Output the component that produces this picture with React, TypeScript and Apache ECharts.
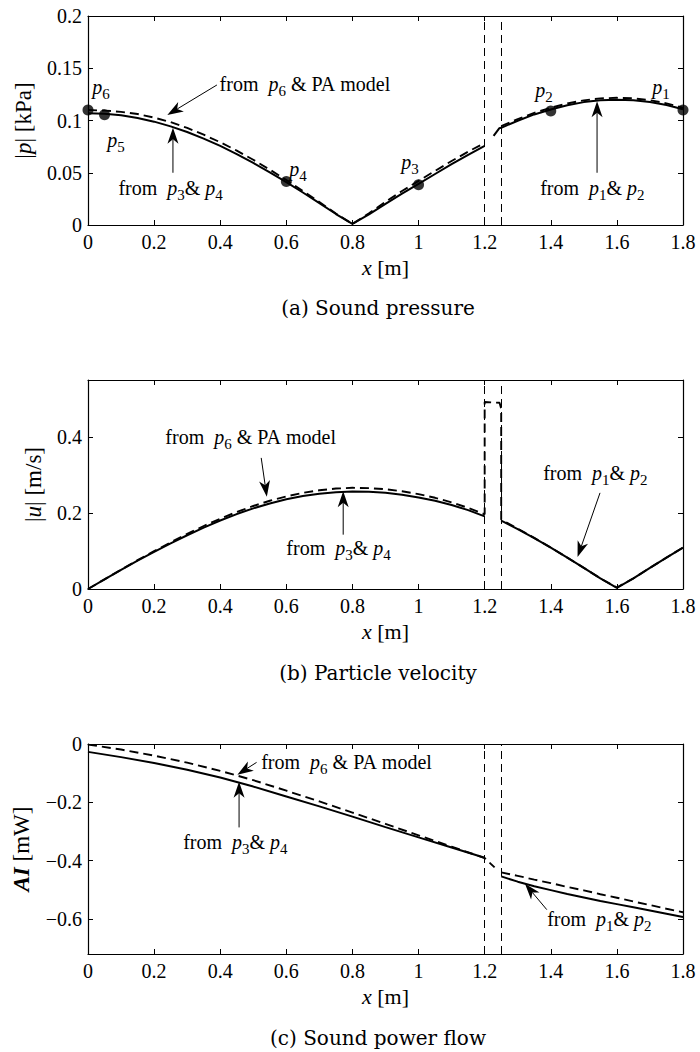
import React, { useEffect, useRef } from 'react';
import * as echarts from 'echarts';

// ---------------- data ----------------
const xTicks = [0, 0.2, 0.4, 0.6, 0.8, 1, 1.2, 1.4, 1.6, 1.8];
const aYTicks = [0, 0.05, 0.1, 0.15, 0.2];
const bYTicks = [0, 0.2, 0.4];
const cYTicks = [-0.6, -0.4, -0.2, 0];
const gapEdges = [1.2, 1.25];

const leftX = [0, 0.05, 0.1, 0.15, 0.2, 0.25, 0.3, 0.35, 0.4, 0.45, 0.5, 0.55, 0.6, 0.65, 0.7, 0.75, 0.8, 0.85, 0.9, 0.95, 1, 1.05, 1.1, 1.15, 1.2];
const rightX = [1.25, 1.3, 1.35, 1.4, 1.45, 1.5, 1.55, 1.6, 1.65, 1.7, 1.75, 1.8];

// (a) sound pressure |p| [kPa]
const aSolidLeft = [0.107, 0.1065, 0.105, 0.1024, 0.0989, 0.0944, 0.089, 0.0827, 0.0757, 0.0679, 0.0594, 0.0504, 0.041, 0.0311, 0.0209, 0.0105, 0.001, 0.0102, 0.0203, 0.03, 0.0393, 0.0488, 0.0582, 0.0672, 0.0758];
const aDashLeft = [0.11, 0.1095, 0.1083, 0.1062, 0.1028, 0.0984, 0.0929, 0.0864, 0.0792, 0.0712, 0.0624, 0.053, 0.043, 0.0326, 0.022, 0.011, 0.001, 0.0112, 0.0222, 0.0325, 0.0422, 0.0518, 0.0612, 0.0702, 0.0785];
const aSolidRightX = [1.227, 1.244, 1.25, 1.3, 1.35, 1.4, 1.45, 1.5, 1.55, 1.6, 1.65, 1.7, 1.75, 1.8];
const aSolidRight = [0.0853, 0.0925, 0.093, 0.0998, 0.1058, 0.1105, 0.1146, 0.1176, 0.1194, 0.1199, 0.1194, 0.1177, 0.1148, 0.1108];
const aDashRight = [0.0945, 0.1013, 0.1073, 0.1122, 0.1163, 0.1193, 0.1212, 0.1217, 0.1212, 0.1194, 0.1164, 0.1122];
const micX = [0, 0.05, 0.6, 1.0, 1.4, 1.8];
const micP = [0.11, 0.1054, 0.0417, 0.0385, 0.109, 0.11];
const micNames = ['6', '5', '4', '3', '2', '1'];

// (b) particle velocity |u| [m/s]
const bSolidLeft = [0, 0.0252, 0.0501, 0.0745, 0.0975, 0.12, 0.1415, 0.1616, 0.1802, 0.1972, 0.2122, 0.2252, 0.236, 0.2445, 0.2508, 0.2548, 0.2563, 0.2558, 0.253, 0.248, 0.241, 0.232, 0.221, 0.2075, 0.191];
const bDashLeft = [0, 0.0255, 0.0508, 0.0758, 0.0995, 0.1228, 0.145, 0.1658, 0.185, 0.2027, 0.2185, 0.2322, 0.2437, 0.253, 0.2598, 0.2643, 0.2663, 0.2655, 0.2625, 0.2572, 0.2497, 0.24, 0.228, 0.2135, 0.1965];
const bSpikeX = [1.2, 1.245, 1.25];
const bSpike = [0.492, 0.49, 0.475];
const bSolidRight = [0.18, 0.1578, 0.1339, 0.1087, 0.0824, 0.0554, 0.0278, 0.003, 0.0278, 0.0554, 0.0824, 0.1087];
const bDashRight = [0.183, 0.1588, 0.1345, 0.109, 0.0826, 0.0556, 0.028, 0.004, 0.028, 0.0556, 0.0826, 0.109];

// (c) sound power flow AI [mW]
const cLeftX = [0, 0.1, 0.2, 0.3, 0.4, 0.5, 0.6, 0.7, 0.8, 0.9, 1, 1.1, 1.2];
const cSolidLeft = [-0.027, -0.045, -0.065, -0.088, -0.115, -0.146, -0.18, -0.214, -0.249, -0.285, -0.32, -0.355, -0.39];
const cDashLeftX = [0, 0.1, 0.2, 0.3, 0.4, 0.5, 0.6, 0.7, 0.8, 0.9, 1, 1.1, 1.2, 1.23];
const cDashLeft = [-0.002, -0.019, -0.04, -0.064, -0.092, -0.124, -0.16, -0.197, -0.235, -0.274, -0.313, -0.352, -0.391, -0.423];
const cSolidRight = [-0.454, -0.472, -0.488, -0.501, -0.514, -0.526, -0.538, -0.549, -0.56, -0.571, -0.582, -0.593];
const cDashRight = [-0.44, -0.452, -0.465, -0.477, -0.49, -0.502, -0.515, -0.527, -0.54, -0.552, -0.565, -0.577];

// ---------------- annotation placement (data coordinates) ----------------
const SP = '\u00A0';
const noteP6 = `{n|from${SP}${SP}}{i|p}{s|6}{n|${SP}&${SP}PA${SP}model}`;
const noteP34 = `{n|from${SP}${SP}}{i|p}{s|3}{n|&${SP}}{i|p}{s|4}`;
const noteP12 = `{n|from${SP}${SP}}{i|p}{s|1}{n|&${SP}}{i|p}{s|2}`;
const micLabelPos = [[0.013, 0.1317], [0.058, 0.0815], [0.609, 0.0538], [0.948, 0.06], [1.353, 0.1293], [1.707, 0.1324]];
const notes = [
  { g: 0, x: 0.398, y: 0.135, t: noteP6 },
  { g: 0, x: 0.092, y: 0.0357, t: noteP34 },
  { g: 0, x: 1.368, y: 0.0357, t: noteP12 },
  { g: 1, x: 0.234, y: 0.4, t: noteP6 },
  { g: 1, x: 0.6, y: 0.108, t: noteP34 },
  { g: 1, x: 1.377, y: 0.306, t: noteP12 },
  { g: 2, x: 0.524, y: -0.061, t: noteP6 },
  { g: 2, x: 0.288, y: -0.337, t: noteP34 },
  { g: 2, x: 1.389, y: -0.6, t: noteP12 },
];
const arrows = [
  { g: 0, from: [0.39, 0.134], to: [0.24, 0.1053] },
  { g: 0, from: [0.257, 0.05], to: [0.257, 0.093] },
  { g: 0, from: [1.54, 0.05], to: [1.54, 0.1185] },
  { g: 1, from: [0.524, 0.345], to: [0.541, 0.243] },
  { g: 1, from: [0.772, 0.143], to: [0.772, 0.257] },
  { g: 1, from: [1.549, 0.253], to: [1.481, 0.084] },
  { g: 2, from: [0.51, -0.063], to: [0.452, -0.105] },
  { g: 2, from: [0.457, -0.286], to: [0.457, -0.129] },
  { g: 2, from: [1.388, -0.568], to: [1.322, -0.479] },
];
const captions = ['(a) Sound pressure', '(b) Particle velocity', '(c) Sound power flow'];

// ---------------- styling ----------------
const SERIF = 'Liberation Serif, Times New Roman, Times, serif';
const CAP = 'DejaVu Serif, serif';
const BLACK = '#000';
const gridTops = [16, 380, 744];
const gridHeights = [209, 209, 210];

const rich = {
  n: { fontFamily: SERIF, fontSize: 20, color: BLACK, fill: BLACK },
  i: { fontFamily: SERIF, fontSize: 20, fontStyle: 'italic', color: BLACK, fill: BLACK },
  s: { fontFamily: SERIF, fontSize: 15, color: BLACK, fill: BLACK, padding: [14, 0, 0, 0] },
};
const nameRich = (size: number) => ({
  n: { fontFamily: SERIF, fontSize: size, color: BLACK },
  i: { fontFamily: SERIF, fontSize: size, fontStyle: 'italic', color: BLACK },
  b: { fontFamily: SERIF, fontSize: size, fontStyle: 'italic', fontWeight: 'bold', color: BLACK },
});

const fmt = (v: number) => {
  const r = Math.round(v * 100) / 100;
  return r < 0 ? '\u2212' + String(-r) : String(r);
};
const zip = (xs: number[], ys: number[]) => xs.map((x, i) => [x, ys[i]]);

function xAxes(g: number) {
  const base: any = {
    type: 'value', gridIndex: g, min: 0, max: 1.8,
    splitLine: { show: false },
    axisLine: { show: true, onZero: false, lineStyle: { color: BLACK, width: 1.2 } },
    axisTick: { show: true, inside: true, length: 5, customValues: xTicks, lineStyle: { color: BLACK, width: 1 } },
  };
  return [
    {
      ...base, position: 'bottom',
      axisLabel: { show: true, customValues: xTicks, color: BLACK, fontFamily: SERIF, fontSize: 20, margin: 7, formatter: fmt },
      name: '{i|x}{n| [m]}', nameLocation: 'middle', nameGap: 31,
      nameTextStyle: { color: BLACK, fontFamily: SERIF, fontSize: 22, rich: nameRich(22) },
    },
    { ...base, position: 'top', axisLabel: { show: false } },
  ];
}

function yAxes(g: number, min: number, max: number, ticks: number[], name: string, gap: number) {
  const base: any = {
    type: 'value', gridIndex: g, min, max,
    splitLine: { show: false },
    axisLine: { show: true, onZero: false, lineStyle: { color: BLACK, width: 1.2 } },
    axisTick: { show: true, inside: true, length: 5, customValues: ticks, lineStyle: { color: BLACK, width: 1 } },
  };
  return [
    {
      ...base, position: 'left',
      axisLabel: { show: true, customValues: ticks, color: BLACK, fontFamily: SERIF, fontSize: 20, margin: 6, formatter: fmt },
      name, nameLocation: 'middle', nameRotate: 90, nameGap: gap,
      nameTextStyle: { color: BLACK, fontFamily: SERIF, fontSize: 23, rich: nameRich(23) },
    },
    { ...base, position: 'right', axisLabel: { show: false } },
  ];
}

function line(g: number, data: number[][], dashed: boolean, extra: any = {}) {
  return {
    type: 'line', xAxisIndex: 2 * g, yAxisIndex: 2 * g, data,
    showSymbol: false, symbol: 'none', smooth: false, silent: true,
    lineStyle: { color: BLACK, width: dashed ? 1.9 : 2, type: dashed ? [9, 5] : 'solid' },
    z: dashed ? 3 : 4,
    ...extra,
  };
}
const gapMarks = {
  silent: true, symbol: ['none', 'none'], label: { show: false },
  lineStyle: { color: BLACK, width: 1, type: [8, 5] },
  emphasis: { disabled: true },
  data: gapEdges.map((v) => ({ xAxis: v })),
};

const option: any = {
  animation: false,
  backgroundColor: '#fff',
  textStyle: { fontFamily: SERIF },
  grid: gridTops.map((top, i) => ({ left: 88, width: 595, top, height: gridHeights[i], containLabel: false, outerBoundsMode: 'none' })),
  xAxis: [...xAxes(0), ...xAxes(1), ...xAxes(2)],
  yAxis: [
    ...yAxes(0, 0, 0.2, aYTicks, '{n||}{i|p}{n|| [kPa]}', 53),
    ...yAxes(1, 0, 0.55, bYTicks, '{n||}{i|u}{n|| [m/s]}', 43),
    ...yAxes(2, -0.72, 0, cYTicks, '{b|AI}{n| [mW]}', 55),
  ],
  series: [
    line(0, zip(leftX, aSolidLeft), false, { markLine: gapMarks }),
    line(0, zip(aSolidRightX, aSolidRight), false),
    line(0, zip(leftX, aDashLeft), true),
    line(0, zip(rightX, aDashRight), true),
    {
      type: 'scatter', xAxisIndex: 0, yAxisIndex: 0, data: zip(micX, micP),
      symbol: 'circle', symbolSize: 11, itemStyle: { color: BLACK }, clip: false, silent: true, z: 6,
    },
    line(1, zip(leftX, bSolidLeft), false, { markLine: gapMarks }),
    line(1, zip(rightX, bSolidRight), false),
    line(1, [...zip(leftX, bDashLeft), ...zip(bSpikeX, bSpike), ...zip(rightX, bDashRight)], true),
    line(2, zip(cLeftX, cSolidLeft), false, { markLine: gapMarks }),
    line(2, zip(rightX, cSolidRight), false),
    line(2, zip(cDashLeftX, cDashLeft), true),
    line(2, zip(rightX, cDashRight), true),
  ],
};

function textEl(x: number, y: number, text: string, extraStyle: any = {}) {
  return {
    type: 'text', x, y, silent: true, z: 10,
    style: {
      text, rich, fill: BLACK, fontFamily: SERIF, fontSize: 20,
      align: 'left', verticalAlign: 'middle', textAlign: 'left', textVerticalAlign: 'middle',
      ...extraStyle,
    },
  };
}

function arrowEls(p0: number[], p1: number[]) {
  const dx = p1[0] - p0[0];
  const dy = p1[1] - p0[1];
  const len = Math.hypot(dx, dy) || 1;
  const ux = dx / len, uy = dy / len;
  const nx = -uy, ny = ux;
  const L = 16, W = 5.5, N = 4.5;
  const bx = p1[0] - ux * L, by = p1[1] - uy * L;
  const mx = p1[0] - ux * (L - N), my = p1[1] - uy * (L - N);
  return [
    { type: 'line', silent: true, z: 10, shape: { x1: p0[0], y1: p0[1], x2: mx, y2: my }, style: { stroke: BLACK, lineWidth: 1 } },
    {
      type: 'polygon', silent: true, z: 10,
      shape: { points: [[p1[0], p1[1]], [bx + nx * W, by + ny * W], [mx, my], [bx - nx * W, by - ny * W]] },
      style: { fill: BLACK },
    },
  ];
}

export default function App() {
  const ref = useRef<HTMLDivElement>(null);
  useEffect(() => {
    if (!ref.current) return;
    const chart = echarts.init(ref.current, undefined, { renderer: 'svg', width: 700, height: 1052 });
    chart.setOption(option);
    const toPx = (g: number, x: number, y: number) => chart.convertToPixel({ gridIndex: g } as any, [x, y]) as number[];
    const elements: any[] = [];
    micNames.forEach((nm, i) => {
      const p = toPx(0, micLabelPos[i][0], micLabelPos[i][1]);
      elements.push(textEl(p[0], p[1], `{i|p}{s|${nm}}`));
    });
    notes.forEach((n) => {
      const p = toPx(n.g, n.x, n.y);
      elements.push(textEl(p[0], p[1], n.t));
    });
    arrows.forEach((a) => {
      elements.push(...arrowEls(toPx(a.g, a.from[0], a.from[1]), toPx(a.g, a.to[0], a.to[1])));
    });
    const capY = [308, 673, 1038];
    captions.forEach((c, i) => {
      elements.push({
        type: 'text', x: 378, y: capY[i], silent: true,
        style: {
          text: c, fill: BLACK, fontFamily: CAP, fontSize: 20,
          align: 'center', verticalAlign: 'middle', textAlign: 'center', textVerticalAlign: 'middle',
        },
      });
    });
    chart.setOption({ graphic: { elements } });
    return () => chart.dispose();
  }, []);
  return <div ref={ref} style={{ position: 'absolute', left: 0, top: 0, width: 700, height: 1052, background: '#fff' }} />;
}
